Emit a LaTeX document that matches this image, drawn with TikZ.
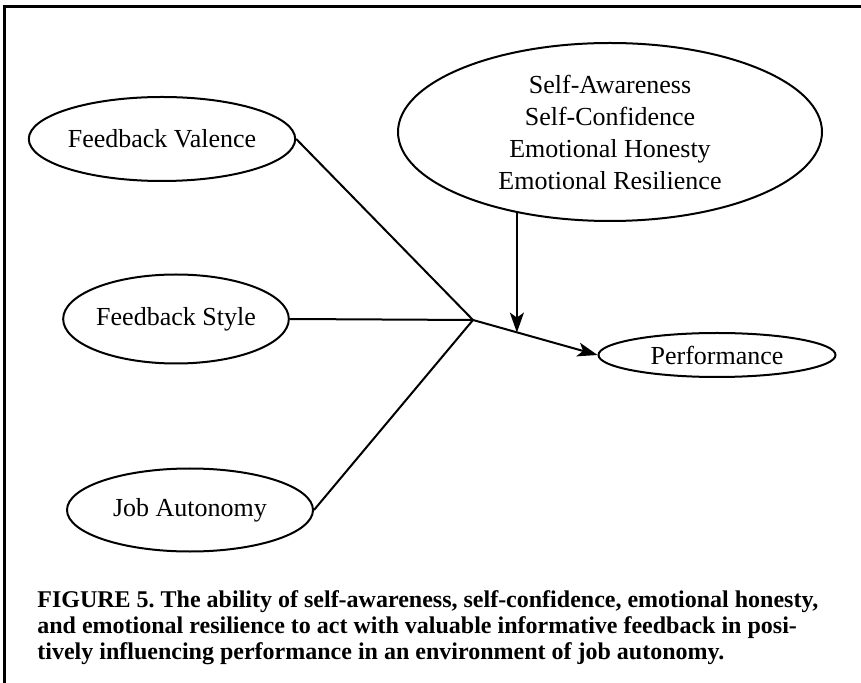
\documentclass[tikz,border=0pt]{standalone}
\usepackage{fontspec}
\setmainfont{Liberation Serif}
\usetikzlibrary{shapes.geometric,arrows.meta,calc}

\begin{document}
\begin{tikzpicture}[x=0.5pt, y=-0.5pt,
	oval/.style={ellipse, draw, line width=1pt, inner sep=0pt, align=center,
		font=\fontsize{13}{16}\selectfont},
	link/.style={line width=1pt},
	arr/.style={link, -{Stealth[length=10pt, width=7pt, inset=2.5pt]}}]
	
	\useasboundingbox (0,0) rectangle (861,683);
	% frame, cut by the page on the right and at the bottom
	\draw[line width=1.5pt] (4,7) rectangle (900,720);
	
	\node[oval, minimum width=122pt, minimum height=42pt] (valence) at (162,139) {Feedback Valence};
	\node[oval, minimum width=110pt, minimum height=44.5pt] (style) at (176,319) {Feedback Style};
	\node[oval, minimum width=123pt, minimum height=41.5pt] (job) at (190,510) {Job Autonomy};
	\node[oval, minimum width=212pt, minimum height=89pt] (traits) at (610,132)
		{Self-Awareness\\Self-Confidence\\Emotional Honesty\\Emotional Resilience};
	\node[oval, minimum width=118.5pt, minimum height=22pt] (perf) at (717,355) {Performance};
	
	\coordinate (jn) at (473,320);
	\draw[link] (valence.east) -- (jn);
	\draw[link] (style.east) -- (jn);
	\draw[link] (job.east) -- (jn);
	\draw[arr] (jn) -- (perf.west);
	
	\coordinate (hit) at ($(jn)!0.36!(perf.west)$);
	\draw[arr] (traits.221) -- (traits.221 |- hit);
	
	% caption: the base anchor is on its last line
	\node[anchor=base west, align=left, inner sep=0pt,
		font=\bfseries\fontsize{12}{13}\selectfont\frenchspacing] (caption) at (37,659)
		{FIGURE 5. The ability of self-awareness, self-confidence, emotional honesty,\\
		and emotional resilience to act with valuable informative feedback in posi-\\
		tively influencing performance in an environment of job autonomy.};
\end{tikzpicture}
\end{document}
